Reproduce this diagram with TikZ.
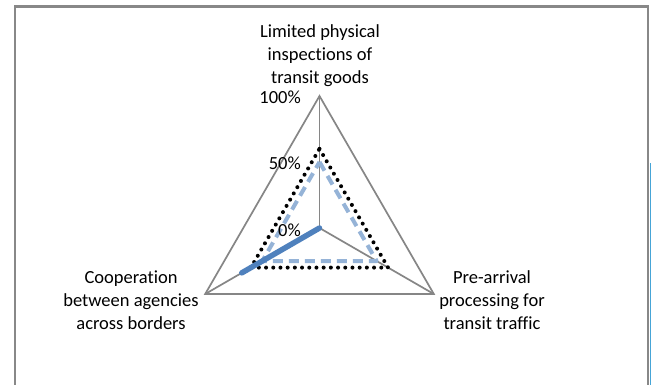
\documentclass[tikz,border=0pt]{standalone}
\usepackage{fontspec}
\setmainfont[Ligatures=NoCommon]{Carlito}
\usetikzlibrary{calc}
\definecolor{framegray}{RGB}{136,136,136}
\definecolor{gridgray}{RGB}{134,134,134}
\definecolor{serblue}{RGB}{79,129,189}
\definecolor{serlight}{RGB}{149,179,215}
\definecolor{stripblue}{RGB}{70,165,215}
\tikzset{
  frameline/.style={draw=framegray,line width=2.4pt},
  gridline/.style={draw=gridgray,line width=1.7pt,line join=miter},
  ser1/.style={draw=serblue,line width=5.5pt,line cap=round},
  ser2/.style={draw=serlight,line width=4pt,dash pattern=on 10pt off 6pt,line join=round},
  ser3/.style={draw=black,line width=4pt,line cap=round,dash pattern=on 0pt off 7.2pt},
  axlabel/.style={font=\fontsize{18.5}{23}\selectfont,align=center,inner sep=0pt},
  ticklabel/.style={font=\fontsize{18.5}{23}\selectfont,anchor=east,inner sep=0pt}
}
\begin{document}
\begin{tikzpicture}[x=1pt,y=-1pt]
\useasboundingbox (0,0) rectangle (651,385);
\fill[white] (0,0) rectangle (651,385);
% frame
\draw[frameline] (15,385) -- (15,6.5) -- (648,6.5) -- (648,385);
\fill[stripblue] (649.5,163) rectangle (651,385);
% axes
\coordinate (C) at (319.5,228);
\coordinate (T) at (319.5,96);
\coordinate (L) at (205.2,294);
\coordinate (R) at (433.8,294);
\draw[gridline] (T) -- (R) -- (L) -- cycle;
\draw[gridline] (C) -- (T);
\draw[gridline] (C) -- (L);
\draw[gridline] (C) -- (R);
% series 3 (dotted)
\coordinate (d1) at ($(C)!0.6!(T)$);
\coordinate (d2) at ($(C)!0.6!(R)$);
\coordinate (d3) at ($(C)!0.6!(L)$);
\draw[ser3] (d1) -- (d2) -- (d3) -- cycle;
% series 2 (dashed)
\coordinate (e1) at ($(C)!0.5!(T)$);
\coordinate (e2) at ($(C)!0.5!(R)$);
\coordinate (e3) at ($(C)!0.5!(L)$);
\draw[ser2] (e1) -- (e2) -- (e3) -- cycle;
% series 1 (solid)
\coordinate (s3) at ($(C)!0.68!(L)$);
\draw[ser1] (C) -- (s3);
% tick labels
\node[ticklabel] (t100) at (301,97) {100\%};
\node[ticklabel] (t50) at (301,163) {50\%};
\node[ticklabel] (t0) at (301,230) {0\%};
% axis labels
\node[axlabel] (lt) at (320,56) {Limited physical\\inspections of\\transit goods};
\node[axlabel] (ll) at (131,300) {Cooperation\\between agencies\\across borders};
\node[axlabel] (lr) at (492,300) {Pre-arrival\\processing for\\transit traffic};
\end{tikzpicture}
\end{document}
